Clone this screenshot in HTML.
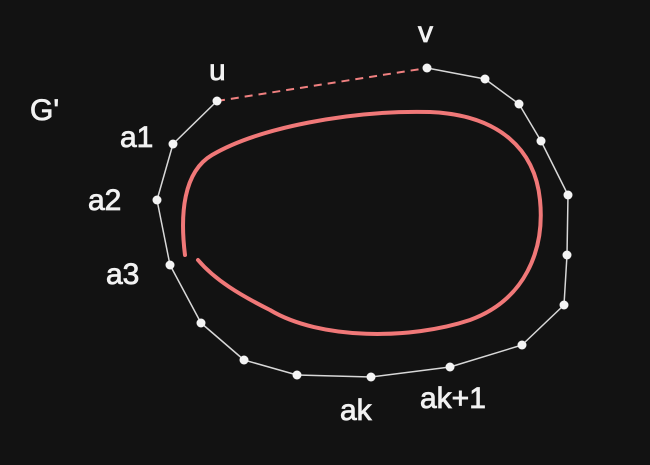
<!DOCTYPE html>
<html><head><meta charset="utf-8"><style>
html,body{margin:0;padding:0;background:#121212;}
svg{display:block;}
text{font-family:"Liberation Sans",sans-serif;fill:#f2f2f2;font-size:30px;stroke:#f2f2f2;stroke-width:0.8;}
</style></head><body>
<svg id="c" width="650" height="465" viewBox="0 0 650 465">
<rect width="650" height="465" fill="#121212"/>
</svg>
<script>
const vertexX = [217,427,485,519,541,568,567,564,522,450,371,297,244,201,170,157,173];
const vertexY = [101,68,79,104,141,195,255,305,345,367,377,375,360,323,265,200,144];
const vertexNames = ['u','v','','','','','','','','ak+1','ak','','','','a3','a2','a1'];
const labels = [
 {t:"G'",x:30,y:120,s:38},{t:"u",x:209,y:80},{t:"v",x:418,y:42},
 {t:"a1",x:120,y:147},{t:"a2",x:88,y:210},{t:"a3",x:106,y:284},
 {t:"ak",x:340,y:420},{t:"ak+1",x:420,y:408}
];
const NS='http://www.w3.org/2000/svg';
const svg=document.getElementById('c');
function mk(tag,attrs){const e=document.createElementNS(NS,tag);for(const k in attrs)e.setAttribute(k,attrs[k]);svg.appendChild(e);return e;}
let d='';
for(let i=1;i<vertexX.length;i++){d+=(i===1?'M':'L')+vertexX[i]+','+vertexY[i]+' ';}
d+='L'+vertexX[0]+','+vertexY[0];
const outline=mk('path',{d:d,fill:'none',stroke:'#d8d8d8','stroke-width':1.5,'stroke-linejoin':'round'});


const uv=mk('line',{x1:vertexX[0],y1:vertexY[0],x2:vertexX[1],y2:vertexY[1],stroke:'#f08080','stroke-width':2,'stroke-dasharray':'8 6'});


const loop=mk('path',{d:'M185,255 C180,215 183,172 212,155 C258,128 350,110 430,112 C500,115 535,150 540,200 C545,250 525,300 470,320 C410,340 320,340 270,310 C240,295 215,280 198,260',fill:'none',stroke:'#f07878','stroke-width':4,'stroke-linecap':'round'});


for(let i=0;i<vertexX.length;i++){
 const c=mk('circle',{cx:vertexX[i],cy:vertexY[i],r:4.5,fill:'#f4f4f4'});
 
 
}
labels.forEach(l=>{
 const t=mk('text',{x:l.x,y:l.y});
 if(l.s)t.setAttribute('font-size',l.s);
 t.textContent=l.t;
 
 
});
</script>
</body></html>
